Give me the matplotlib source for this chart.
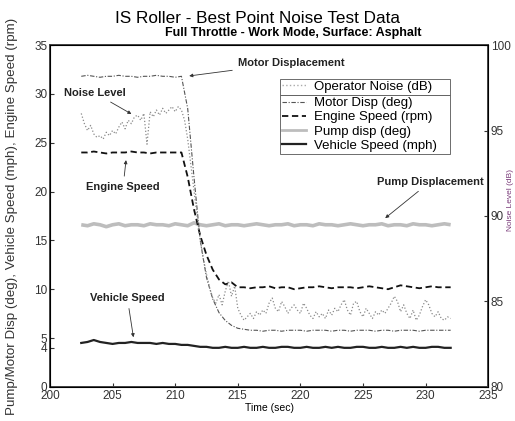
import numpy as np
import matplotlib
matplotlib.use('Agg')
import matplotlib.pyplot as plt
from matplotlib.lines import Line2D

plt.rcParams['font.family'] = ['Liberation Sans', 'DejaVu Sans']

# tempo (s) - amostragem de 0.5 s para as variaveis da maquina
tempo = np.arange(202.5, 232.01, 0.5)
# tempo do ruido - amostragem de 0.25 s
tempo_ruido = np.arange(202.5, 232.01, 0.25)

motor_disp = [31.8, 31.9, 31.8, 31.7, 31.8, 31.8, 31.9, 31.8, 31.8, 31.7, 31.8, 31.8, 31.9, 31.8, 31.8, 31.7, 31.8,
              28.5, 21.5, 15.0, 11.2, 9.0, 7.6, 6.8, 6.3, 6.0,
              5.9, 5.8, 5.8, 5.7, 5.8, 5.8, 5.7, 5.8, 5.8, 5.8, 5.7, 5.8, 5.8, 5.8, 5.7, 5.8, 5.8,
              5.7, 5.8, 5.8, 5.8, 5.7, 5.8, 5.8, 5.7, 5.8, 5.8, 5.8, 5.7, 5.8, 5.8, 5.8, 5.8, 5.8]

engine_speed = [24.0, 24.0, 24.1, 24.0, 23.9, 24.0, 24.0, 24.0, 24.1, 24.0, 24.0, 23.9, 24.0, 24.0, 24.0, 24.0, 24.0,
                21.5, 18.2, 15.5, 13.5, 12.0, 11.0, 10.5, 10.7, 10.2,
                10.2, 10.1, 10.2, 10.2, 10.3, 10.1, 10.2, 10.2, 10.0, 10.1, 10.2, 10.2, 10.3, 10.2, 10.1,
                10.2, 10.2, 10.2, 10.1, 10.2, 10.3, 10.2, 10.1, 10.0, 10.2, 10.4, 10.3, 10.2, 10.1, 10.2,
                10.3, 10.2, 10.2, 10.2]

pump_disp = [16.6, 16.5, 16.7, 16.6, 16.4, 16.6, 16.7, 16.5, 16.6, 16.6, 16.5, 16.7, 16.6, 16.6, 16.5, 16.7,
             16.6, 16.5, 16.8, 16.6, 16.5, 16.6, 16.7, 16.5, 16.6, 16.6, 16.5, 16.6, 16.7, 16.6, 16.5, 16.6,
             16.6, 16.7, 16.5, 16.6, 16.6, 16.5, 16.7, 16.6, 16.6, 16.5, 16.6, 16.7, 16.6, 16.5, 16.6, 16.6,
             16.7, 16.5, 16.6, 16.6, 16.5, 16.7, 16.6, 16.6, 16.5, 16.6, 16.7, 16.6]

vehicle_speed = [4.5, 4.6, 4.8, 4.6, 4.5, 4.4, 4.5, 4.5, 4.6, 4.5, 4.5, 4.5, 4.4, 4.5, 4.4, 4.4, 4.3,
                 4.3, 4.2, 4.1, 4.1, 4.0, 4.0, 4.1, 4.0,
                 4.0, 4.1, 4.0, 4.0, 4.1, 4.0, 4.0, 4.1, 4.1, 4.0, 4.0, 4.1, 4.0, 4.0, 4.1, 4.0, 4.1,
                 4.0, 4.0, 4.1, 4.1, 4.0, 4.0, 4.1, 4.0, 4.0, 4.1, 4.0, 4.1, 4.0, 4.0, 4.1, 4.1, 4.0, 4.0]

ruido_db = [96.0, 95.4, 95.0, 95.3, 94.8, 94.6, 94.7, 94.5, 94.9, 94.7,
            95.0, 94.8, 95.2, 95.5, 95.1, 95.6, 95.4, 95.8, 95.9, 95.6,
            96.0, 94.2, 96.1, 95.8, 96.2, 95.9, 96.3, 96.0, 96.2, 96.4,
            96.1, 96.4, 96.2, 95.6,
            94.5, 93.0, 91.5, 90.0, 88.6, 87.5, 86.6, 85.8, 85.2, 84.9,
            85.4, 84.8, 85.6, 86.2, 85.3, 85.9, 84.6, 84.2, 83.9,
            84.1, 84.3, 84.0, 84.4, 84.2, 84.5, 84.3, 84.9, 85.2, 84.6,
            84.4, 85.0, 84.7, 84.3, 84.6, 84.8, 84.5, 84.3, 84.9, 84.6,
            84.2, 84.0, 84.4, 84.1, 84.3, 84.0, 84.5, 84.2, 84.6, 84.4,
            84.8, 85.1, 84.5, 84.2, 84.9, 85.0, 84.4, 84.1, 84.6, 84.3,
            84.0, 84.4, 84.2, 84.5, 84.3, 84.6, 84.9, 85.3, 85.0, 84.4,
            84.8, 84.3, 84.0, 84.5, 83.9, 84.2, 84.7, 85.1, 84.8, 84.3,
            84.1, 84.4, 84.0, 83.9, 84.1, 84.0]

yticks_esq = [0, 4, 5, 10, 15, 20, 25, 30, 35]
yticks_dir = [80, 85, 90, 95, 100]
xticks = [200, 205, 210, 215, 220, 225, 230, 235]

fig = plt.figure(figsize=(5.15, 4.21), dpi=100)
ax = fig.add_axes([0.097, 0.081, 0.851, 0.812])

cor_motor = '#555555'
cor_pump = '#bdbdbd'
cor_ruido = '#8a8a8a'
estilo_motor = (0, (4, 1.5, 1, 1.5))
estilo_engine = (0, (3.5, 2))

ax.plot(tempo, pump_disp, color=cor_pump, lw=2.6, solid_capstyle='butt')
ax.plot(tempo, motor_disp, color=cor_motor, lw=0.8, linestyle=estilo_motor)
ax.plot(tempo, engine_speed, color='#111111', lw=1.3, linestyle=estilo_engine)
ax.plot(tempo, vehicle_speed, color='#222222', lw=1.6)

ax.set_xlim(200, 235)
ax.set_ylim(0, 35)
ax.set_xticks(xticks)
ax.set_yticks(yticks_esq)
ax.tick_params(direction='in', labelsize=8.5, length=3, pad=2, colors='#333333')
for s in ax.spines.values():
    s.set_linewidth(1.4)
    s.set_color('#444444')
ax.set_xlabel('Time (sec)', fontsize=7.5, labelpad=1)
ax.set_ylabel('Pump/Motor Disp (deg), Vehicle Speed (mph), Engine Speed (rpm)', fontsize=9.6,
              color='#333333', va='center')
ax.yaxis.set_label_coords(-0.087, 0.50)

ax2 = ax.twinx()
ax2.plot(tempo_ruido, ruido_db, color=cor_ruido, lw=0.9, linestyle=':')
ax2.set_ylim(80, 100)
ax2.set_yticks(yticks_dir)
ax2.tick_params(direction='in', labelsize=8.5, length=3, pad=2, colors='#333333')
ax2.set_ylabel('Noise Level (dB)', fontsize=6, color='#7a3b7a', va='center')
ax2.yaxis.set_label_coords(1.05, 0.547)

# anotacoes
seta = dict(arrowstyle='-|>', color='#333333', lw=0.6, mutation_scale=5)
txt = dict(fontsize=8, fontweight='bold', va='center', color='#222222')
ax.annotate('Motor Displacement', xy=(210.9, 31.8), xytext=(215.0, 33.2), arrowprops=seta, **txt)
ax.annotate('Noise Level', xy=(206.7, 27.8), xytext=(201.1, 30.1), arrowprops=seta, **txt)
ax.annotate('Engine Speed', xy=(206.1, 23.5), xytext=(202.9, 20.5), arrowprops=seta, **txt)
ax.annotate('Pump Displacement', xy=(226.6, 17.1), xytext=(226.1, 21.0), arrowprops=seta,
            annotation_clip=False, **txt)
ax.annotate('Vehicle Speed', xy=(206.7, 4.8), xytext=(203.2, 9.1), arrowprops=seta, **txt)

# legendas
h_ruido = [Line2D([], [], color='#aaaaaa', lw=1.0, linestyle=':')]
h_outros = [Line2D([], [], color=cor_motor, lw=0.8, linestyle=estilo_motor),
            Line2D([], [], color='#111111', lw=1.3, linestyle=estilo_engine),
            Line2D([], [], color=cor_pump, lw=2.0),
            Line2D([], [], color='#222222', lw=1.6)]
leg_kw = dict(fontsize=9.5, fancybox=False, framealpha=1, edgecolor='#555555', mode='expand',
              borderpad=0.15, handlelength=1.8, handletextpad=0.6, borderaxespad=0)
leg1 = ax2.legend(h_ruido, ['Operator Noise (dB)'], loc='lower left',
                  bbox_to_anchor=(0.525, 0.854, 0.388, 0.052), **leg_kw)
leg1.get_frame().set_linewidth(0.6)
ax2.add_artist(leg1)
leg2 = ax2.legend(h_outros, ['Motor Disp (deg)', 'Engine Speed (rpm)', 'Pump disp (deg)', 'Vehicle Speed (mph)'],
                  loc='upper left', bbox_to_anchor=(0.525, 0.854, 0.388, 0.0),
                  labelspacing=0.15, **leg_kw)
leg2.get_frame().set_linewidth(0.6)

fig.text(0.50, 0.957, 'IS Roller - Best Point Noise Test Data', ha='center', va='center', fontsize=12.3)
fig.text(0.569, 0.921, 'Full Throttle - Work Mode, Surface: Asphalt', ha='center', va='center',
         fontsize=9, fontweight='bold')

fig.savefig('out.png', dpi=100)
